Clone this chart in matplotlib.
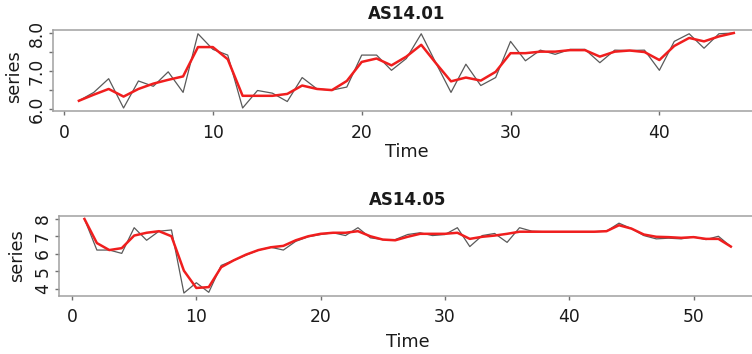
import numpy as np
import matplotlib
matplotlib.use("Agg")
import matplotlib.pyplot as plt

# AS14.01 : observed series and smoothed fit
time_01 = np.arange(1, 46)
series_01 = [6.22, 6.44, 6.80, 6.03, 6.74, 6.60, 6.98, 6.44, 7.98, 7.57,
             7.42, 6.03, 6.49, 6.42, 6.20, 6.83, 6.53, 6.50, 6.58, 7.42,
             7.42, 7.02, 7.33, 7.98, 7.20, 6.44, 7.18, 6.62, 6.83, 7.78,
             7.27, 7.55, 7.44, 7.57, 7.57, 7.22, 7.55, 7.54, 7.55, 7.02,
             7.78, 7.98, 7.60, 7.98, 8.00]
smooth_01 = [6.22, 6.38, 6.53, 6.33, 6.53, 6.67, 6.77, 6.86, 7.63, 7.63,
             7.31, 6.35, 6.35, 6.35, 6.40, 6.62, 6.53, 6.50, 6.74, 7.24,
             7.33, 7.15, 7.38, 7.69, 7.20, 6.73, 6.83, 6.75, 6.98, 7.47,
             7.47, 7.51, 7.51, 7.55, 7.55, 7.38, 7.51, 7.54, 7.50, 7.29,
             7.66, 7.87, 7.78, 7.91, 8.00]

# AS14.05
time_05 = np.arange(1, 54)
series_05 = [8.00, 6.22, 6.22, 6.03, 7.50, 6.78, 7.30, 7.37, 3.76, 4.35,
             3.80, 5.34, 5.63, 5.93, 6.22, 6.38, 6.22, 6.72, 6.98, 7.11,
             7.21, 7.05, 7.50, 6.92, 6.82, 6.82, 7.11, 7.21, 7.05, 7.11,
             7.50, 6.42, 7.05, 7.17, 6.66, 7.50, 7.30, 7.27, 7.27, 7.27,
             7.27, 7.27, 7.30, 7.76, 7.45, 7.05, 6.86, 6.90, 6.86, 6.98,
             6.82, 7.01, 6.42]
smooth_05 = [8.00, 6.62, 6.22, 6.33, 7.05, 7.21, 7.30, 7.01, 5.04, 4.05,
             4.10, 5.24, 5.63, 5.96, 6.22, 6.38, 6.46, 6.78, 7.01, 7.15,
             7.21, 7.21, 7.30, 7.01, 6.82, 6.78, 6.98, 7.15, 7.15, 7.15,
             7.21, 6.86, 6.98, 7.05, 7.15, 7.27, 7.27, 7.27, 7.27, 7.27,
             7.27, 7.27, 7.30, 7.64, 7.45, 7.11, 6.98, 6.96, 6.92, 6.96,
             6.86, 6.86, 6.42]

W, H = 752, 354
fig = plt.figure(figsize=(W / 100, H / 100), dpi=100)

spine_col = '#a0a0a0'
text_col = '#1a1a1a'


def panel(rect, t, obs, fit, title, yticks, ylabels, ylab_x, xlab_y, ylab_y):
    ax = fig.add_axes(rect)
    ax.plot(t, obs, color='#5a5a5a', lw=0.9)
    ax.plot(t, fit, color='#f01e1e', lw=1.8)
    n = len(t)
    pad = (n - 1) * 0.04
    ax.set_xlim(1 - pad, n + pad)
    lo, hi = min(obs), max(obs)
    ypad = (hi - lo) * 0.04
    ax.set_ylim(lo - ypad, hi + ypad)
    ax.set_xticks(range(0, n + 1, 10))
    ax.set_yticks(yticks, ylabels)
    for s in ax.spines.values():
        s.set_color(spine_col)
        s.set_linewidth(1.1)
    ax.tick_params(axis='both', length=3, width=1, color='#707070',
                   labelsize=12.3, labelcolor=text_col)
    ax.tick_params(axis='x', pad=6)
    ax.tick_params(axis='y', labelrotation=90, pad=2)
    for lab in ax.get_yticklabels():
        lab.set_va('center')
    ax.set_title(title, fontsize=12, fontweight='bold', color=text_col, pad=8)
    ax.set_xlabel('Time', fontsize=12.8, color=text_col)
    ax.set_ylabel('series', fontsize=12.8, color=text_col)
    ax.xaxis.label.set_va('center')
    ax.yaxis.label.set_va('center')
    ax.xaxis.set_label_coords(0.5, xlab_y)
    ax.yaxis.set_label_coords(ylab_x, ylab_y)
    return ax


panel([52.7 / W, 1 - 111 / H, 707.3 / W, 81 / H], time_01, series_01, smooth_01,
      'AS14.01', [6.0, 6.5, 7.0, 7.5, 8.0], ['6.0', '', '7.0', '', '8.0'],
      -0.055, -0.506, 0.43)
panel([58.6 / W, 1 - 296 / H, 698.1 / W, 80 / H], time_05, series_05, smooth_05,
      'AS14.05', [4, 5, 6, 7, 8], ['4', '5', '6', '7', '8'],
      -0.059, -0.575, 0.5)

fig.savefig('out.png', dpi=100)
